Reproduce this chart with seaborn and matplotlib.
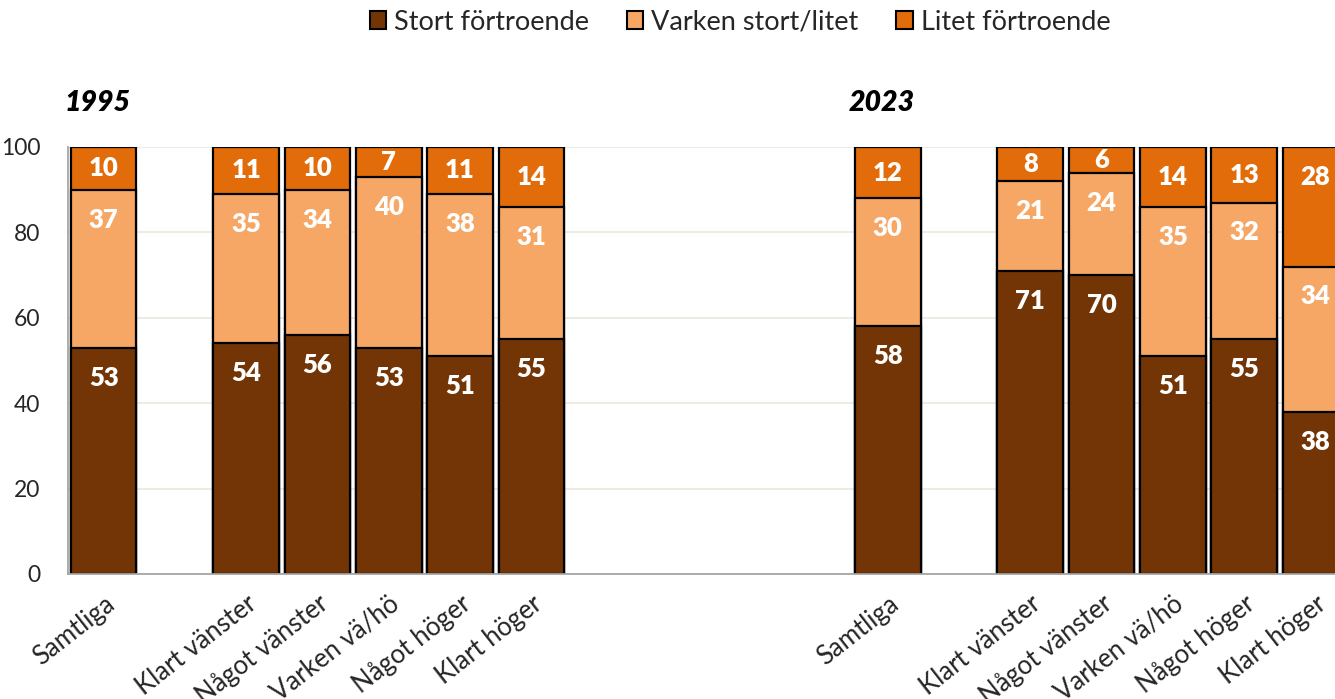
import numpy as np
import pandas as pd
import matplotlib
matplotlib.use("Agg")
import matplotlib.pyplot as plt
import matplotlib.transforms as mtransforms
from matplotlib.patches import Patch
import seaborn as sns

groups = ["Samtliga", "Klart vänster", "Något vänster", "Varken vä/hö", "Något höger", "Klart höger"]
years = ["1995", "2023"]

stort_1995 = [53, 54, 56, 53, 51, 55]
varken_1995 = [37, 35, 34, 40, 38, 31]
litet_1995 = [10, 11, 10, 7, 11, 14]

stort_2023 = [58, 71, 70, 51, 55, 38]
varken_2023 = [30, 21, 24, 35, 32, 34]
litet_2023 = [12, 8, 6, 14, 13, 28]

series_names = ["Stort förtroende", "Varken stort/litet", "Litet förtroende"]
colors = ["#733505", "#F6A765", "#E36C0A"]

# slot layout: Samtliga, gap, five groups, four gaps, then the same for 2023
slots = []
for i, yr in enumerate(years):
    slots.append(f"{yr}|{groups[0]}")
    slots.append(f"{yr}|gap")
    slots += [f"{yr}|{g}" for g in groups[1:]]
    if i == 0:
        slots += [f"gap{k}" for k in range(4)]

rows = []
for yr, s, v, l in [("1995", stort_1995, varken_1995, litet_1995),
                    ("2023", stort_2023, varken_2023, litet_2023)]:
    for g, a, b, c in zip(groups, s, v, l):
        rows.append({"slot": f"{yr}|{g}", "group": g, "stort": a, "varken": b, "litet": c})
df = pd.DataFrame(rows)
df["cum2"] = df["stort"] + df["varken"]
df["cum3"] = df["cum2"] + df["litet"]

sns.set_style("white")
plt.rcParams["font.family"] = ["Lato", "DejaVu Sans"]

W, H = 1335, 699
fig = plt.figure(figsize=(W / 100, H / 100), dpi=100)
slot_px = 71.28
ax = fig.add_axes([68 / W, 1 - 574 / H, 18 * slot_px / W, 427 / H])

for col, c in zip(["cum3", "cum2", "stort"], [colors[2], colors[1], colors[0]]):
    sns.barplot(data=df, x="slot", y=col, order=slots, color=c, saturation=1,
                width=0.92, edgecolor="black", linewidth=1.6, errorbar=None, ax=ax)

ax.set_xlim(-0.5, len(slots) - 0.5)
ax.set_ylim(0, 100)
ax.set_yticks(range(0, 101, 20))
ax.tick_params(axis="y", length=0, labelsize=16.5, pad=20)
ax.yaxis.grid(True, color="#EDE9E1", lw=1.3)
ax.set_axisbelow(True)
ax.set_xlabel("")
ax.set_ylabel("")
for sp in ["top", "right"]:
    ax.spines[sp].set_visible(False)
for sp in ["left", "bottom"]:
    ax.spines[sp].set_color("#A6A6A6")
    ax.spines[sp].set_linewidth(1.3)

ax.set_xticks(np.arange(len(slots) + 1) - 0.5)
ax.set_xticklabels([])
ax.tick_params(axis="x", length=8, width=1.3, color="#A6A6A6", direction="out")

offset = mtransforms.ScaledTranslation(0 / 100, -17 / 100, fig.dpi_scale_trans)
for i, s in enumerate(slots):
    if "|" in s and not s.endswith("gap"):
        ax.text(i, 0, s.split("|")[1], transform=ax.get_xaxis_transform() + offset,
                ha="right", va="top", rotation=38, rotation_mode="anchor", fontsize=18.5)

# data labels
for _, r in df.iterrows():
    x = slots.index(r["slot"])
    bottoms = [0, r["stort"], r["cum2"]]
    vals = [r["stort"], r["varken"], r["litet"]]
    for b, v in zip(bottoms, vals):
        top = b + v
        ypos = top - min(7.0, v / 2)
        ax.text(x, ypos, f"{v}", ha="center", va="center", color="white",
                fontsize=18.5, fontweight="heavy", clip_on=False)

# year headings
for yr in years:
    x = slots.index(f"{yr}|Samtliga") - 0.55
    ax.text(x, 110.3, yr, ha="left", va="center", fontsize=20.5, fontweight="heavy",
            fontstyle="italic", color="black")

handles = [Patch(facecolor=c, edgecolor="black", linewidth=1.5, label=n) for n, c in zip(series_names, colors)]
fig.legend(handles=handles, loc="center", bbox_to_anchor=(740 / W, 1 - 22 / H), ncol=3,
           frameon=False, fontsize=19.5, handlelength=0.6, handleheight=0.6,
           handletextpad=0.3, columnspacing=1.4)

fig.savefig("out.png", dpi=100)
